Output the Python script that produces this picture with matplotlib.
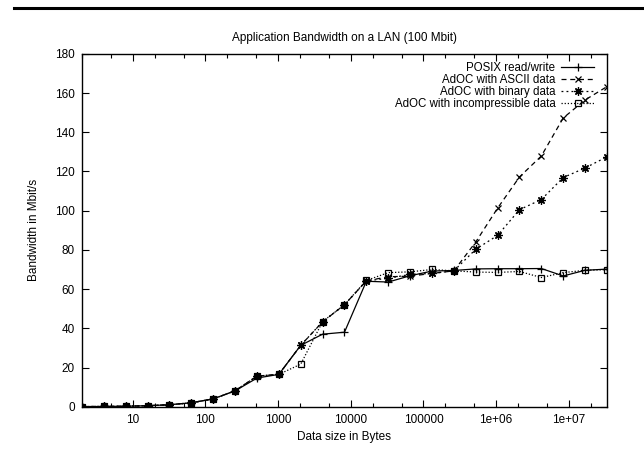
import matplotlib
matplotlib.use("Agg")
import matplotlib.pyplot as plt
from matplotlib.lines import Line2D
from matplotlib.ticker import LogLocator, FixedLocator, NullFormatter

plt.rcParams["font.family"] = ["Liberation Sans", "DejaVu Sans"]
plt.rcParams["font.size"] = 8.5

# data size in bytes (powers of two, 2 .. 32M)
sizes = [2, 4, 8, 16, 32, 64, 128, 256, 512, 1024, 2048, 4096, 8192, 16384,
         32768, 65536, 131072, 262144, 524288, 1048576, 2097152, 4194304,
         8388608, 16777216, 33554432]

posix = [0.06, 0.12, 0.25, 0.5, 1.0, 2.0, 4.0, 8.1, 14.6, 16.5, 31.3, 37.0,
         38.0, 64.0, 63.6, 66.8, 69.2, 69.5, 70.3, 70.4, 70.4, 70.5, 66.7,
         69.6, 70.2]
ascii_data = [0.06, 0.12, 0.25, 0.5, 1.0, 2.0, 4.0, 8.1, 15.6, 16.5, 31.3,
              43.3, 52.0, 64.2, 66.3, 66.6, 68.0, 69.3, 84.0, 101.3, 117.2,
              127.9, 147.3, 156.5, 163.3]
binary_data = [0.06, 0.12, 0.25, 0.5, 1.0, 2.0, 4.0, 8.1, 15.6, 16.5, 31.3,
               43.4, 52.0, 64.2, 65.5, 67.5, 68.0, 69.3, 80.3, 87.4, 100.5,
               105.7, 116.9, 121.8, 127.5]
incompressible = [0.06, 0.12, 0.25, 0.5, 1.0, 2.0, 4.0, 8.1, 15.6, 16.5, 21.7,
                  43.4, 52.0, 64.4, 68.4, 68.8, 70.0, 69.3, 68.7, 68.5, 69.0,
                  65.9, 68.4, 69.6, 69.9]

labels = ["POSIX read/write", "AdOC with ASCII data",
          "AdOC with binary data", "AdOC with incompressible data"]
y_ticks = [0, 20, 40, 60, 80, 100, 120, 140, 160, 180]
x_ticks = [10, 100, 1000, 10000, 100000, 1e6, 1e7]
x_ticklabels = ["10", "100", "1000", "10000", "100000", "1e+06", "1e+07"]

fig = plt.figure(figsize=(6.44, 4.49), dpi=100)
ax = fig.add_axes([0.1273, 0.0942, 0.8152, 0.7858])

lw = 0.9
ax.plot(sizes, posix, color="black", lw=lw, ls="-", marker="+", ms=6,
        mew=0.9, label=labels[0])
ax.plot(sizes, ascii_data, color="black", lw=lw, ls=(0, (4, 3)), marker="x",
        ms=5, mew=0.9, label=labels[1])
ax.plot(sizes, binary_data, color="black", lw=lw, ls=(0, (1.5, 2.5)),
        marker=(8, 2, 0), ms=6, mew=0.9, label=labels[2])
ax.plot(sizes, incompressible, color="black", lw=lw, ls=(0, (1, 1.5)),
        marker="s", ms=5, mfc="none", mew=0.9, label=labels[3])

ax.set_xscale("log")
ax.set_xlim(2, 33554432)
ax.set_ylim(0, 180)
ax.xaxis.set_major_locator(FixedLocator(x_ticks))
ax.set_xticklabels(x_ticklabels)
ax.xaxis.set_minor_locator(LogLocator(base=10, subs=(2, 5)))
ax.xaxis.set_minor_formatter(NullFormatter())
ax.set_yticks(y_ticks)

ax.tick_params(which="both", direction="in", top=True, right=True,
               labelsize=8.5, pad=5)
ax.tick_params(which="major", length=5, width=0.8)
ax.tick_params(which="minor", length=3, width=0.8)
for s in ax.spines.values():
    s.set_linewidth(1.0)

ax.set_title("Application Bandwidth on a LAN (100 Mbit)", fontsize=8.5, pad=9)
ax.set_xlabel("Data size in Bytes", fontsize=8.5, labelpad=4)
ax.set_ylabel("Bandwidth in Mbit/s", fontsize=8.5, labelpad=11)

leg = ax.legend(loc="upper right", bbox_to_anchor=(0.985, 0.99),
                frameon=False, markerfirst=False, handlelength=2.9,
                labelspacing=0.0, handletextpad=0.5, borderaxespad=0,
                fontsize=8.3)
for col in leg._legend_handle_box.get_children():
    col.align = "right"

# thick rule across the top of the page
fig.add_artist(Line2D([0.022, 1.0], [0.982, 0.982], color="black", lw=2.2,
                      transform=fig.transFigure))

fig.savefig("out.png", dpi=100)
